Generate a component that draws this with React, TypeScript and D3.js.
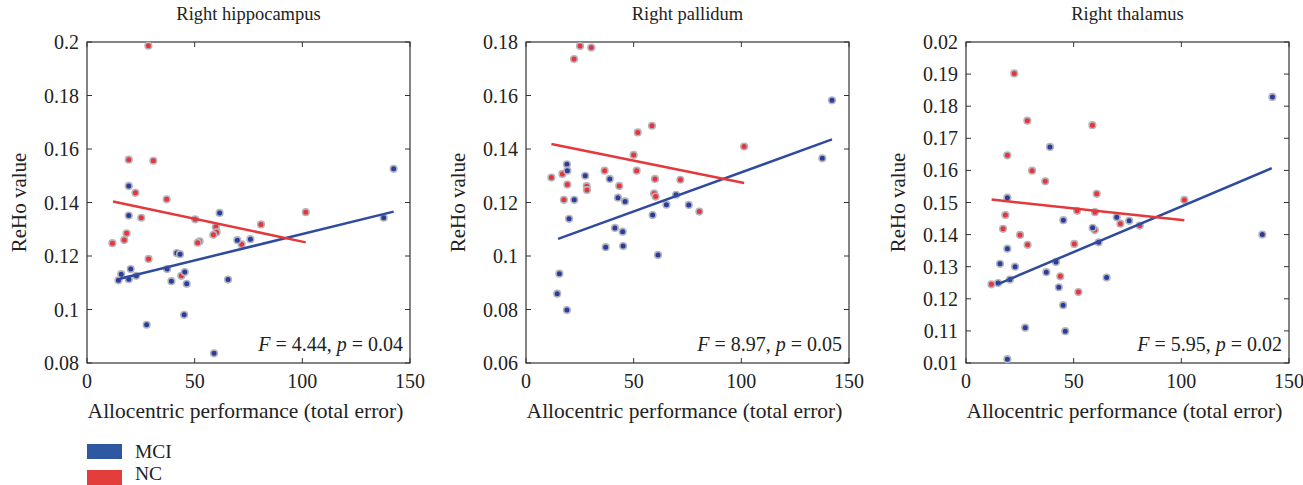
import * as d3 from 'd3'

// panel titles and axes
const titles = ['Right hippocampus', 'Right pallidum', 'Right thalamus']
const yDomains = [[0.08, 0.2], [0.06, 0.18], [0.1, 0.2]]
const yTickValues = [
  [0.08, 0.1, 0.12, 0.14, 0.16, 0.18, 0.2],
  [0.06, 0.08, 0.1, 0.12, 0.14, 0.16, 0.18],
  [0.1, 0.11, 0.12, 0.13, 0.14, 0.15, 0.16, 0.17, 0.18, 0.19, 0.2],
]
// labels as printed in the figure (thalamus panel has its own labels)
const yTickLabels = [
  ['0.08', '0.1', '0.12', '0.14', '0.16', '0.18', '0.2'],
  ['0.06', '0.08', '0.1', '0.12', '0.14', '0.16', '0.18'],
  ['0.01', '0.11', '0.12', '0.13', '0.14', '0.15', '0.16', '0.17', '0.18', '0.19', '0.02'],
]
const xTicks = [0, 50, 100, 150]
const stats = [['4.44', '0.04'], ['8.97', '0.05'], ['5.95', '0.02']]
const groups = ['MCI', 'NC']

// scatter points [total error, ReHo]
const hippoMCI = [
  [19.4, 0.1462], [19.4, 0.1351], [61.6, 0.1361], [14.6, 0.1109], [15.9, 0.1132], [20.3, 0.1151],
  [19.4, 0.1113], [22.9, 0.1126], [37.2, 0.1151], [41.7, 0.1211], [43.2, 0.1207], [39.2, 0.1106],
  [45.4, 0.114], [46.3, 0.1096], [45.1, 0.098], [27.7, 0.0943], [59, 0.0836], [65.5, 0.1112],
  [69.8, 0.1259], [75.9, 0.1263], [137.8, 0.1343], [142.4, 0.1526],
]
const hippoNC = [
  [28.5, 0.1986], [19.4, 0.156], [30.8, 0.1556], [22.5, 0.1436], [37, 0.1412], [25.2, 0.1343],
  [18.4, 0.1285], [17.3, 0.126], [11.8, 0.1248], [28.6, 0.1189], [50.2, 0.1337], [59.8, 0.1308],
  [60.2, 0.1289], [58.7, 0.1279], [52.3, 0.1255], [51.4, 0.125], [71.8, 0.1244], [80.8, 0.1318],
  [101.6, 0.1364], [43.8, 0.1126],
]
const pallMCI = [
  [19, 0.1343], [19.2, 0.1319], [27.5, 0.13], [38.9, 0.1288], [22.4, 0.121], [42.7, 0.1218],
  [46, 0.1204], [20, 0.1139], [69.7, 0.1229], [65.2, 0.1192], [75.6, 0.1191], [58.8, 0.1153],
  [41.3, 0.1105], [44.9, 0.1091], [37, 0.1033], [45.1, 0.1037], [61.3, 0.1004], [15.5, 0.0934],
  [14.5, 0.0859], [19, 0.0798], [137.6, 0.1365], [142.1, 0.1582],
]
const pallNC = [
  [25.1, 0.1785], [30.3, 0.1779], [22.3, 0.1736], [58.5, 0.1487], [51.9, 0.1462], [101.3, 0.1409],
  [50, 0.1378], [11.8, 0.1293], [16.9, 0.1307], [19.2, 0.1267], [36.5, 0.1319], [51.4, 0.1319],
  [28.2, 0.1261], [28.3, 0.1247], [43.3, 0.1262], [59.9, 0.1288], [71.7, 0.1285], [59.5, 0.1234],
  [60.2, 0.1222], [17.6, 0.121], [80.5, 0.1166],
]
const thalMCI = [
  [39, 0.1673], [19.2, 0.1515], [45.2, 0.1445], [70, 0.1454], [75.8, 0.1443], [58.8, 0.1421],
  [61.6, 0.1376], [19.2, 0.1356], [15.8, 0.1309], [22.8, 0.13], [41.8, 0.1315], [37.3, 0.1283],
  [14.9, 0.1249], [20.4, 0.126], [65.3, 0.1266], [43.1, 0.1236], [45.1, 0.118], [27.5, 0.111],
  [46.1, 0.1099], [19.2, 0.1012], [137.6, 0.14], [142.3, 0.1829],
]
const thalNC = [
  [22.4, 0.1902], [28.5, 0.1755], [58.7, 0.1741], [19.2, 0.1647], [30.7, 0.1599], [36.8, 0.1566],
  [60.7, 0.1527], [101.4, 0.1508], [51.6, 0.1474], [59.9, 0.147], [18.3, 0.1461], [17.2, 0.1418],
  [25.1, 0.1399], [28.6, 0.1368], [59.8, 0.1414], [71.7, 0.1434], [80.7, 0.1428], [50.3, 0.1371],
  [11.8, 0.1245], [43.8, 0.127], [52.2, 0.1221],
]
// fitted lines [start, end]
const hippoFitMCI = [[15.3, 0.1115], [142.4, 0.1366]]
const hippoFitNC = [[12.1, 0.1404], [101.6, 0.1251]]
const pallFitMCI = [[14.9, 0.1064], [142.1, 0.1436]]
const pallFitNC = [[11.8, 0.1419], [101.3, 0.1273]]
const thalFitMCI = [[14.9, 0.1246], [142, 0.1607]]
const thalFitNC = [[11.9, 0.1509], [101.4, 0.1445]]

const mciPoints = [hippoMCI, pallMCI, thalMCI]
const ncPoints = [hippoNC, pallNC, thalNC]
const mciFits = [hippoFitMCI, pallFitMCI, thalFitMCI]
const ncFits = [hippoFitNC, pallFitNC, thalFitNC]

const W = 1303, H = 485
const lefts = [87, 526, 966]
const plotW = 323, top = 42, bottom = 363
const font = 'Liberation Serif'
const blue = '#2f4aa0', red = '#e5383b'
const dotBlue = '#2a3d9c', dotRed = '#e8343a'
const legendBlue = '#2e58a2', legendRed = '#e33d3c'

const Panel = ({ i }: { i: number }) => {
  const left = lefts[i]
  const x = d3.scaleLinear().domain([0, 150]).range([left, left + plotW])
  const y = d3.scaleLinear().domain(yDomains[i]).range([bottom, top])
  const line = d3.line<number[]>().x(d => x(d[0])).y(d => y(d[1]))
  const tk = 5
  return (
    <g fill="#222">
      <text x={left + plotW / 2} y={20} textAnchor="middle" fontSize={18.5}>{titles[i]}</text>
      <rect x={left} y={top} width={plotW} height={bottom - top} fill="none" stroke="#333" strokeWidth={1.2} />
      {yTickValues[i].map((v, j) => (
        <g key={j}>
          <line x1={left} x2={left + tk} y1={y(v)} y2={y(v)} stroke="#333" />
          <line x1={left + plotW} x2={left + plotW - tk} y1={y(v)} y2={y(v)} stroke="#333" />
          <text x={left - 8} y={y(v)} dy="0.35em" textAnchor="end" fontSize={20}>{yTickLabels[i][j]}</text>
        </g>
      ))}
      {xTicks.map(v => (
        <g key={v}>
          <line x1={x(v)} x2={x(v)} y1={bottom} y2={bottom - tk} stroke="#333" />
          <line x1={x(v)} x2={x(v)} y1={top} y2={top + tk} stroke="#333" />
          <text x={x(v)} y={bottom + 25} textAnchor="middle" fontSize={20}>{v}</text>
        </g>
      ))}
      <text x={left + plotW / 2 - 3} y={418} textAnchor="middle" fontSize={21.5}>Allocentric performance (total error)</text>
      <text transform={`translate(${left - 61},${(top + bottom) / 2}) rotate(-90)`} textAnchor="middle" fontSize={21}>ReHo value</text>
      {ncPoints[i].map((d, j) => (
        <circle key={'n' + j} cx={x(d[0])} cy={y(d[1])} r={3.3} fill={dotRed} stroke="#b4b4bc" strokeWidth={1.6} />
      ))}
      {mciPoints[i].map((d, j) => (
        <circle key={'m' + j} cx={x(d[0])} cy={y(d[1])} r={3.3} fill={dotBlue} stroke="#b4b4bc" strokeWidth={1.6} />
      ))}
      <path d={line(mciFits[i]) || ''} stroke={blue} strokeWidth={2.5} fill="none" />
      <path d={line(ncFits[i]) || ''} stroke={red} strokeWidth={2.5} fill="none" />
      <text x={left + plotW - 7} y={bottom - 12} textAnchor="end" fontSize={20}>
        <tspan fontStyle="italic">F</tspan> = {stats[i][0]}, <tspan fontStyle="italic">p</tspan> = {stats[i][1]}
      </text>
    </g>
  )
}

export default function App() {
  const legendColors = [legendBlue, legendRed]
  return (
    <svg width={W} height={H} style={{ position: 'absolute', left: 0, top: 0, background: '#fff', fontFamily: font }}>
      <rect width={W} height={H} fill="#fff" />
      {titles.map((_, i) => <Panel key={i} i={i} />)}
      {groups.map((g, i) => (
        <g key={g}>
          <rect x={87} y={444 + i * 26} width={35} height={15} fill={legendColors[i]} />
          <text x={135} y={457.5 + i * 22.5} fontSize={19.5} fill="#222">{g}</text>
        </g>
      ))}
    </svg>
  )
}
